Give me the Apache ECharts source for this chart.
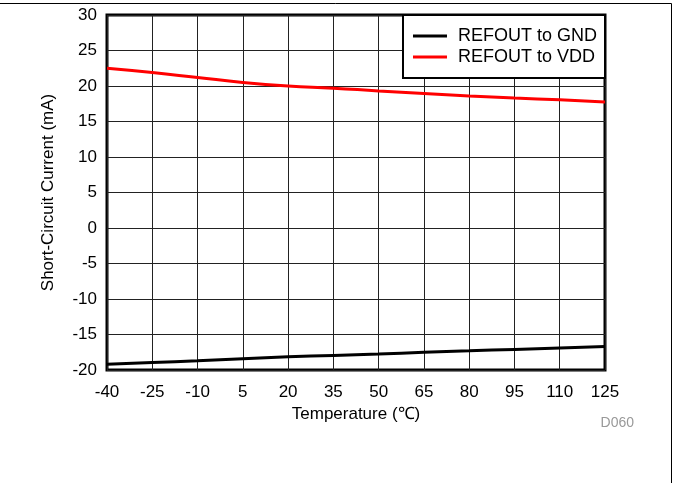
<!DOCTYPE html>
<html>
<head>
<meta charset="utf-8">
<script src="https://cdn.jsdelivr.net/npm/echarts@6/dist/echarts.min.js"></script>
<style>
html, body { margin: 0; padding: 0; background: #fff; }
#chart { width: 673px; height: 483px; }
</style>
</head>
<body>
<div id="chart"></div>
<script>
// temperature (℃) categories
var temps = ['-40', '-25', '-10', '5', '20', '35', '50', '65', '80', '95', '110', '125'];
// short-circuit current (mA)
var toGnd = [-19.2, -18.95, -18.7, -18.4, -18.15, -17.95, -17.75, -17.5, -17.3, -17.1, -16.9, -16.7];
var toVdd = [22.5, 21.9, 21.2, 20.5, 20.0, 19.7, 19.3, 18.95, 18.6, 18.3, 18.05, 17.75];

var font = 'Arial, "Liberation Sans", sans-serif';

var chart = echarts.init(document.getElementById('chart'));
var option = {
	animation: false,
	backgroundColor: '#fff',
	grid: {
		left: 107,
		top: 15,
		width: 498,
		height: 355,
		show: true,
		borderColor: '#000',
		borderWidth: 3,
		containLabel: false
	},
	legend: {
		orient: 'vertical',
		right: 68,
		top: 15,
		data: [
			{ name: 'REFOUT to GND', icon: 'rect', itemStyle: { color: '#000' } },
			{ name: 'REFOUT to VDD', icon: 'rect', itemStyle: { color: '#ff0000' } }
		],
		backgroundColor: '#fff',
		borderColor: '#000',
		borderWidth: 2,
		padding: [11, 8, 11, 10],
		itemWidth: 34,
		itemHeight: 3,
		itemGap: 1,
		textStyle: {
			color: '#000',
			fontSize: 18,
			fontFamily: font,
			lineHeight: 20,
			padding: [0, 0, 0, 6]
		}
	},
	xAxis: {
		type: 'category',
		data: temps,
		boundaryGap: false,
		name: 'Temperature (℃)',
		nameLocation: 'middle',
		nameGap: 36,
		nameTextStyle: { color: '#000', fontSize: 17, fontFamily: font },
		axisLine: { show: false },
		axisTick: { show: false },
		axisLabel: { color: '#000', fontSize: 17, fontFamily: font, margin: 14, interval: 0 },
		splitLine: { show: true, lineStyle: { color: '#222', width: 1 } }
	},
	yAxis: {
		type: 'value',
		min: -20,
		max: 30,
		interval: 5,
		name: 'Short-Circuit Current (mA)',
		nameLocation: 'middle',
		nameGap: 50,
		nameTextStyle: { color: '#000', fontSize: 17, fontFamily: font },
		axisLine: { show: false },
		axisTick: { show: false },
		axisLabel: { color: '#000', fontSize: 17, fontFamily: font, margin: 10 },
		splitLine: { show: true, lineStyle: { color: '#222', width: 1 } }
	},
	series: [
		{
			name: 'REFOUT to GND',
			type: 'line',
			data: toGnd,
			symbol: 'none',
			smooth: true,
			lineStyle: { color: '#000', width: 3 },
			itemStyle: { color: '#000' },
			z: 5
		},
		{
			name: 'REFOUT to VDD',
			type: 'line',
			data: toVdd,
			symbol: 'none',
			smooth: true,
			lineStyle: { color: '#ff0000', width: 3 },
			itemStyle: { color: '#ff0000' },
			z: 5
		}
	],
	graphic: [
		// outer frame: top and right edges
		{ type: 'line', shape: { x1: 0, y1: 3.5, x2: 671.5, y2: 3.5 }, style: { stroke: '#000', lineWidth: 1 } },
		{ type: 'line', shape: { x1: 671.5, y1: 3.5, x2: 671.5, y2: 483 }, style: { stroke: '#000', lineWidth: 1 } },
		{ type: 'text', right: 39, top: 416, style: { text: 'D060', fill: '#999', fontSize: 14, fontFamily: font } }
	]
};
chart.setOption(option);
</script>
</body>
</html>
